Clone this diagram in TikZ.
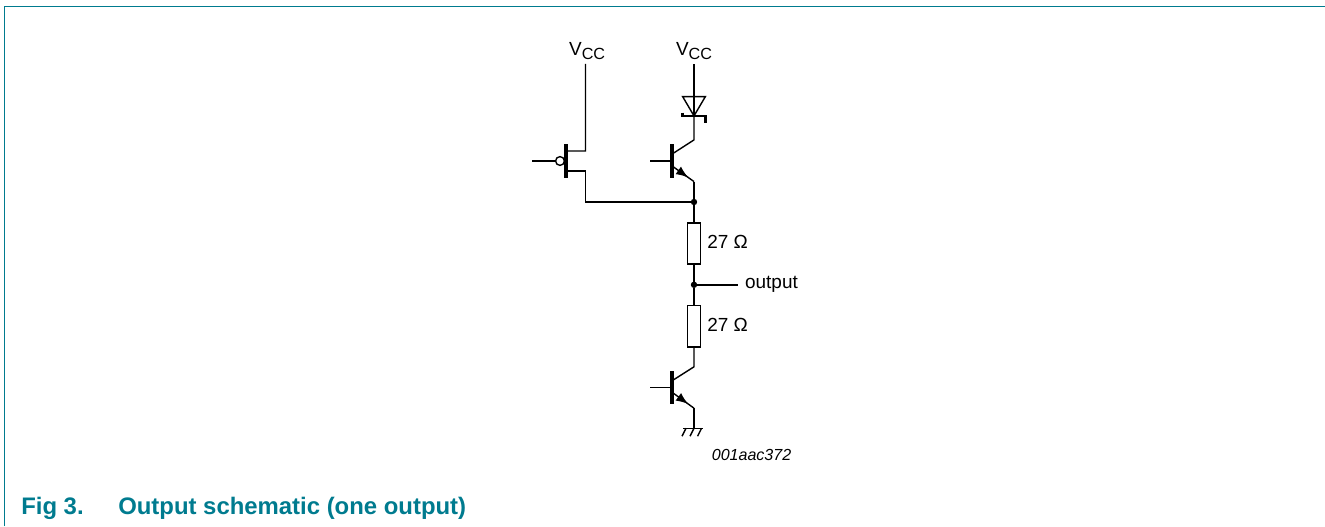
\documentclass[tikz,border=0pt]{standalone}
\usepackage{fontspec}
\setmainfont{Liberation Sans}
\usepackage{tikz}
\usetikzlibrary{arrows}
\usetikzlibrary{decorations.markings}
\usetikzlibrary{positioning}
\definecolor{figteal}{HTML}{007B8F}
\newcommand{\vcc}{V\raisebox{-.2em}{\fontsize{11.5}{12}\selectfont CC}}
\tikzset{
  wire/.style={line width=1pt},
  tbar/.style={fill=black, inner sep=0pt, outer sep=0pt, minimum width=.08cm, minimum height=.84cm},
  res/.style={draw, line width=1pt, inner sep=0pt, outer sep=0pt, minimum width=.325cm, minimum height=1.03cm},
  dot/.style={circle, fill=black, inner sep=0pt, outer sep=0pt, minimum size=.16cm},
  bubble/.style={circle, draw, line width=1pt, fill=white, inner sep=0pt, outer sep=0pt, minimum size=.22cm},
  lbl/.style={inner sep=0pt, font=\fontsize{13.5}{16}\selectfont},
  emitter/.style={postaction={decorate}, decoration={markings, mark=at position .74 with {\arrow[scale=1.5]{latex}}}},
}
\begin{document}
\begin{tikzpicture}
    \useasboundingbox (0,0) rectangle (33.125,13.15);
    \draw [figteal, line width=.9pt] (.1175,0) -- (.1175,12.99) -- (33.125,12.99);
    \node [dot] (jn) at (17.35,8.1) {};
    \node [res, below=.52cm of jn.center] (r1) {};
    \node [dot, below=.52cm of r1.south, anchor=center] (out) {};
    \node [res, below=.52cm of out.center] (r2) {};
    \node [lbl, right=.165cm of r1, yshift=.03cm] (r1lbl) {27 Ω};
    \node [lbl, right=.165cm of r2, yshift=.03cm] (r2lbl) {27 Ω};
    \coordinate [right=1.09cm of out.center] (outend);
    \node [lbl, right=.18cm of outend, yshift=.0cm] (outlbl) {output};
    \coordinate [below=.5cm of r2.south] (lc);
    \node [tbar, below left=.52cm and .55cm of lc, anchor=center] (lbar) {};
    \coordinate [above=.17cm of lbar.center] (lbc);
    \coordinate [below=.115cm of lbar.center] (lbe);
    \coordinate [left=.55cm of lbar.center] (lbase);
    \coordinate [below right=.4cm and .55cm of lbe] (le);
    \coordinate [below=.5cm of le] (gnd);
    \node [inner sep=0pt, below right=.52cm and .44cm of gnd, font=\fontsize{11.4}{13}\selectfont\itshape] (tag) {001aac372};
    \coordinate [above=.51cm of jn.center] (ue);
    \node [tbar, above left=.5175cm and .55cm of ue, anchor=center] (ubar) {};
    \coordinate [above right=.525cm and .55cm of ubar.center] (uc);
    \coordinate [below=.125cm of ubar.center] (ube);
    \coordinate [above=.17cm of ubar.center] (ubc);
    \coordinate [left=.55cm of ubar.center] (ubase);
    \coordinate [above=.6cm of uc] (dk);
    \coordinate [above left=.48cm and .2825cm of dk] (da1);
    \coordinate [above right=.48cm and .2825cm of dk] (da2);
    \coordinate [left=.2875cm of dk] (dkl);
    \coordinate [right=.2875cm of dk] (dkr);
    \coordinate [above=.0825cm of dkl] (dkl2);
    \coordinate [below=.175cm of dkr] (dkr2);
    \coordinate [above=1.3cm of dk] (vr);
    \node [lbl, above=.11cm of vr] (vrlbl) {\vcc};
    \coordinate [left=2.7125cm of jn.center] (ps);
    \coordinate [above=.775cm of ps] (sc);
    \coordinate [above=.5cm of sc] (dr);
    \coordinate [above=2.175cm of dr] (vl);
    \node [lbl, above=.11cm of vl, xshift=.04cm] (vllbl) {\vcc};
    \node [tbar, above left=.25cm and .4875cm of sc, anchor=center] (pbar) {};
    \coordinate [above=.25cm of pbar.center] (pd);
    \coordinate [below=.25cm of pbar.center] (ps2);
    \node [bubble, left=0cm of pbar] (gate) {};
    \coordinate [left=.59cm of gate] (pin);
    \draw [wire] (jn) -- (r1);
    \draw [wire] (r1) -- (out);
    \draw [wire] (out) -- (r2);
    \draw [wire] (out) -- (outend);
    \draw [wire] (r2) -- (lc) -- (lbc);
    \draw [wire] (lbase) -- (lbar);
    \draw [wire, emitter] (lbe) -- (le);
    \draw [wire] (le) -- (gnd);
    \draw [wire] ([xshift=-.27cm]gnd) -- ([xshift=.22cm]gnd);
    \foreach \gx in {-.2,0,.19}
      \draw [wire] ([xshift=\gx cm]gnd) -- ++(-.1,-.2);
    \draw [wire] (jn) -- (ue);
    \draw [wire, emitter] (ube) -- (ue);
    \draw [wire] (ubc) -- (uc) -- (dk);
    \draw [wire] (ubase) -- (ubar);
    \draw [wire] (da1) -- (da2) -- (dk) -- cycle;
    \draw [line width=1.6pt] (dkl2) -- (dkl) -- (dkr) -- (dkr2);
    \draw [wire] (dk) -- (vr);
    \draw [wire] (jn) -- (ps) -- (sc) -- (ps2);
    \draw [wire] (vl) -- (dr) -- (pd);
    \draw [wire] (pin) -- (gate);
    \node [anchor=base west, inner sep=0pt, text=figteal, font=\fontsize{17}{20}\selectfont\bfseries] (figno) at (.525,.28) {Fig 3.};
    \node [anchor=base west, inner sep=0pt, text=figteal, font=\fontsize{17}{20}\selectfont\bfseries] (figcap) at (2.95,.28) {Output schematic (one output)};
\end{tikzpicture}
\end{document}
